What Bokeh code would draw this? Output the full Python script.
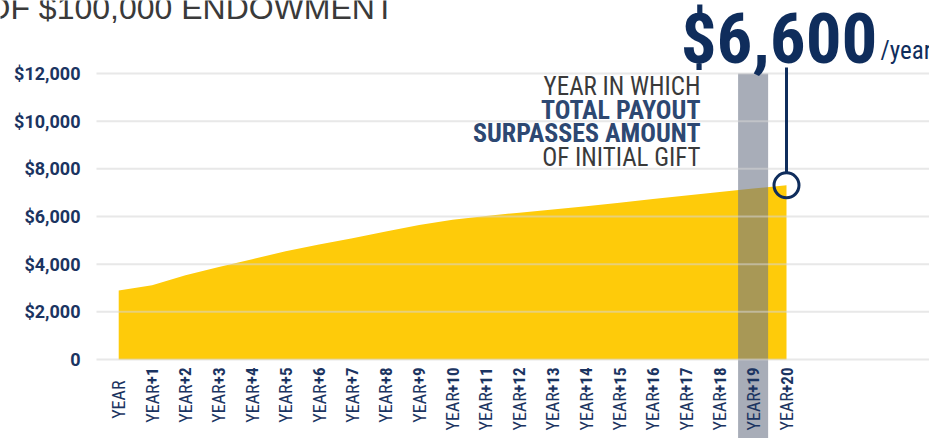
import math
from bokeh.plotting import figure
from bokeh.models import Range1d, FixedTicker, Label
from bokeh.core.properties import value
from bokeh.embed import file_html
from bokeh.resources import INLINE

# ---------------- data ----------------
years = list(range(21))
payout = [2900, 3120, 3530, 3880, 4210, 4540, 4830, 5090, 5370, 5640, 5860,
          6020, 6160, 6290, 6430, 6580, 6730, 6880, 7030, 7170, 7310]
year_prefix = ["YEAR"] * 21
year_suffix = [""] + ["+%d" % i for i in range(1, 21)]
y_ticks = [0, 2000, 4000, 6000, 8000, 10000, 12000]
y_tick_labels = ["0", "$2,000", "$4,000", "$6,000", "$8,000", "$10,000", "$12,000"]
highlight_year = 19
callout_value = "$6,600"
callout_unit = "/year"
note_lines = ["YEAR IN WHICH", "TOTAL PAYOUT", "SURPASSES AMOUNT", "OF INITIAL GIFT"]
note_bold = [False, True, True, False]
title_text = "OF $100,000 ENDOWMENT"

# ---------------- styling / geometry ----------------
W, H = 929, 438
PX_PER_X = 33.39
X0 = -118.2 / PX_PER_X
X1 = X0 + W / PX_PER_X
Y0, Y1 = -3315, 15063
NAVY = "#1b3461"
NAVY_DARK = "#0f2d5c"
NAVY_MID = "#2d4872"
GRAY_TXT = "#3a3a3a"
YELLOW = "#fecb0a"
BAND = "#6e7689"
NARROW = "Liberation Sans Narrow, Roboto Condensed, DejaVu Sans Condensed, sans-serif"
MID = 0.3465  # distance from em-box middle to baseline, in font sizes


def dx(px):
    return X0 + px / PX_PER_X


def dy(py):
    return Y1 - py * (Y1 - Y0) / H


PX_PER_Y = H / (Y1 - Y0)

p = figure(width=W, height=H, x_range=Range1d(X0, X1), y_range=Range1d(Y0, Y1),
           output_backend="svg", toolbar_location=None,
           min_border_left=0, min_border_right=0, min_border_top=0, min_border_bottom=0,
           background_fill_color="white", border_fill_color="white",
           outline_line_color=None)

# y axis, fixed at the left edge of the chart area
yax = p.yaxis[0]
yax.fixed_location = dx(96)
yax.ticker = FixedTicker(ticks=y_ticks)
yax.major_label_overrides = {t: l for t, l in zip(y_ticks, y_tick_labels)}
yax.axis_line_color = None
yax.major_tick_line_color = None
yax.major_tick_out = 0
yax.major_tick_in = 0
yax.minor_tick_line_color = None
yax.major_label_standoff = 16
yax.major_label_text_font = "Roboto"
yax.major_label_text_font_style = "bold"
yax.major_label_text_font_size = "18px"
yax.major_label_text_color = NAVY

p.xaxis.visible = False
p.xgrid.visible = False
p.ygrid.visible = False

# area
p.varea(x=years, y1=[0] * len(years), y2=payout, fill_color=YELLOW)

# highlight band
p.quad(left=[highlight_year - 0.45], right=[highlight_year + 0.45],
       bottom=[Y0], top=[y_ticks[-1]], fill_color=BAND, fill_alpha=0.6, line_color=None)

# horizontal grid lines at the y ticks (from the axis edge to the right border)
p.segment(x0=[dx(96)] * len(y_ticks), y0=y_ticks, x1=[X1] * len(y_ticks), y1=y_ticks,
          line_color="#d6d6d6", line_alpha=0.55, line_width=2)

# x labels: bold "+N" next to the axis, "YEAR" below it
AX_TOP = 359 + 8
SUF_SIZE = 17
p.text(x=years, y=[dy(AX_TOP)] * len(years), text=year_suffix,
       angle=math.pi / 2, text_align="right", text_baseline="middle",
       text_font=value(NARROW), text_font_style="bold",
       text_font_size="%dpx" % SUF_SIZE, text_color=NAVY)


def suffix_len(s):
    if s == "":
        return 13
    return SUF_SIZE * (0.479 + 0.456 * (len(s) - 1)) + 1


p.text(x=years, y=[dy(AX_TOP + suffix_len(s)) for s in year_suffix], text=year_prefix,
       angle=math.pi / 2, text_align="right", text_baseline="middle",
       text_font=value(NARROW), text_font_size="18px", text_color=NAVY)

# callout marker
last_x, last_v = years[-1], payout[-1]
p.segment(x0=[last_x], y0=[last_v + 12.5 / PX_PER_Y], x1=[last_x], y1=[dy(67)],
          line_color=NAVY_DARK, line_width=3)
p.scatter(x=[last_x], y=[last_v], size=25, marker="circle", fill_color=None,
          line_color=NAVY_DARK, line_width=3)


def add_text(px, baseline_px, text, size, color, align="left", bold=False, font=NARROW):
    p.add_layout(Label(x=dx(px), y=dy(baseline_px - MID * size), text=text,
                       text_align=align, text_baseline="middle", text_font=font,
                       text_font_style="bold" if bold else "normal",
                       text_font_size="%dpx" % size, text_color=color))


# big value
add_text(877, 63, callout_value, 71, NAVY_DARK, align="right", bold=True)
add_text(880, 59, callout_unit, 25, NAVY_DARK)

# note
baselines = [95, 118.5, 142, 166]
for line, bold, b in zip(note_lines, note_bold, baselines):
    add_text(700, b, line, 26 if bold else 25, NAVY_MID if bold else GRAY_TXT,
             align="right", bold=bold)

# cut-off title
add_text(-15, 18.5, title_text, 32, GRAY_TXT, font="Liberation Sans")

open("out.html", "w").write(file_html(p, INLINE))
